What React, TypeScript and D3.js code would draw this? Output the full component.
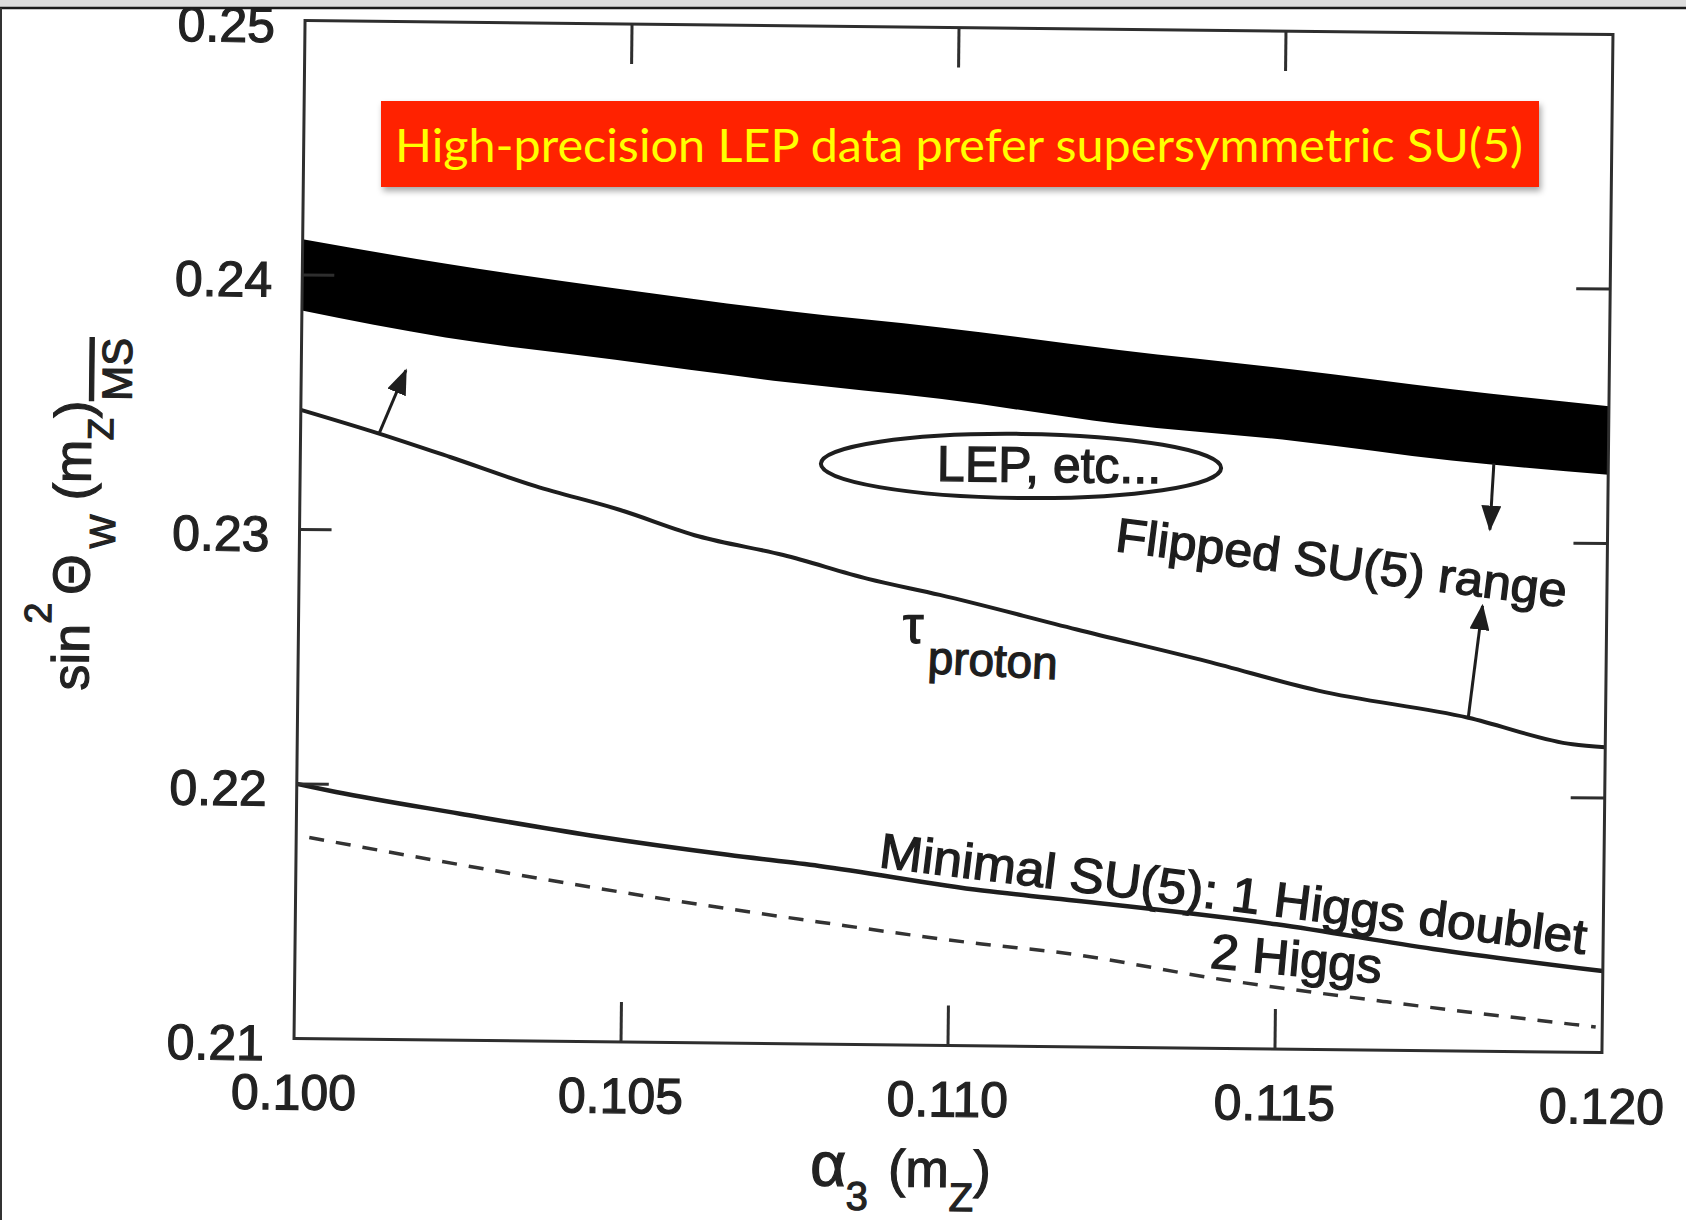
import React from "react";
import * as d3 from "d3";

const W = 1686;
const H = 1220;

// LEP band, sin^2(theta_W) against alpha_3(m_Z)
const bandAlpha = [0.1, 0.1022, 0.1048, 0.1074, 0.1098, 0.1125, 0.1152, 0.1176, 0.12];
const bandUpper = [0.2414, 0.2405, 0.2396, 0.2388, 0.2382, 0.2374, 0.2367, 0.236, 0.2354];
const bandLower = [0.2386, 0.2376, 0.2368, 0.236, 0.2354, 0.2345, 0.2339, 0.2332, 0.2327];

// proton lifetime bound
const tauAlpha = [0.1, 0.1012, 0.1023, 0.1036, 0.1049, 0.1061, 0.1074, 0.1087, 0.1098, 0.1119, 0.1139, 0.1156, 0.1179, 0.1195, 0.12];
const tauSin2 = [0.2347, 0.2338, 0.2329, 0.2318, 0.2309, 0.2299, 0.2292, 0.2283, 0.2277, 0.2264, 0.2252, 0.2241, 0.2231, 0.2221, 0.222];

// minimal SU(5), 1 Higgs doublet
const minimalAlpha = [0.1, 0.1006, 0.1025, 0.1045, 0.1066, 0.108, 0.1105, 0.1117, 0.115, 0.1174, 0.12];
const minimalSin2 = [0.22, 0.2197, 0.2189, 0.2181, 0.2174, 0.217, 0.2161, 0.2158, 0.2149, 0.214, 0.2132];

// minimal SU(5), 2 Higgs doublets (dashed)
const twoHiggsAlpha = [0.1002, 0.1025, 0.1052, 0.108, 0.1105, 0.1117, 0.1142, 0.1167, 0.1199];
const twoHiggsSin2 = [0.2179, 0.2169, 0.2158, 0.2148, 0.214, 0.2137, 0.2127, 0.2119, 0.211];

const xTicks = [0.1, 0.105, 0.11, 0.115, 0.12];
const xTickLabels = ["0.100", "0.105", "0.110", "0.115", "0.120"];
const yTicks = [0.21, 0.22, 0.23, 0.24, 0.25];
const yTickLabels = ["0.21", "0.22", "0.23", "0.24", "0.25"];

// arrows: [alpha, sin2] start -> end
const arrowFrom = [[0.1012, 0.2338], [0.11825, 0.2331], [0.1179, 0.2231]];
const arrowTo = [[0.1016, 0.2363], [0.1182, 0.2305], [0.1181, 0.2275]];

const FONT = "'Liberation Sans', Arial, Helvetica, sans-serif";
const INK = "#1e1e1e";

export default function App() {
  const left = 299.5, right = 1607.5, top = 27.5, bottom = 1045.5;
  const x = d3.scaleLinear().domain([0.1, 0.12]).range([left, right]);
  const y = d3.scaleLinear().domain([0.21, 0.25]).range([bottom, top]);

  const band = d3.area<number>()
    .x((d) => x(d))
    .y0((d, i) => y(bandLower[i]))
    .y1((d, i) => y(bandUpper[i]))
    .curve(d3.curveMonotoneX)(bandAlpha);

  const line = (xs: number[], ys: number[]) =>
    d3.line<number>().x((d) => x(d)).y((d, i) => y(ys[i])).curve(d3.curveMonotoneX)(xs);

  const inner = (t: number[]) => t.slice(1, -1);
  const cx = (left + right) / 2;
  const cy = (top + bottom) / 2;

  const at = (a: number, s: number, rot = 0) => `translate(${x(a)},${y(s)}) rotate(${rot})`;

  return (
    <svg width={W} height={H} style={{ position: "absolute", left: 0, top: 0, background: "#fff" }}>
      <defs>
        <marker id="head" viewBox="0 0 26 20" markerWidth={26} markerHeight={20} refX={24} refY={10}
          orient="auto" markerUnits="userSpaceOnUse">
          <path d="M0,0 L26,10 L0,20 Z" fill={INK} />
        </marker>
        <filter id="shadow" x="-5%" y="-20%" width="110%" height="150%">
          <feDropShadow dx="2" dy="4" stdDeviation="3" floodColor="#000" floodOpacity="0.35" />
        </filter>
      </defs>
      <rect width={W} height={H} fill="#fff" />

      <g transform={`rotate(0.62,${cx},${cy})`}>
        {/* LEP band */}
        <path d={band || ""} fill="#000" />

        <path d={line(tauAlpha, tauSin2) || ""} fill="none" stroke={INK} strokeWidth={4} />
        <path d={line(minimalAlpha, minimalSin2) || ""} fill="none" stroke={INK} strokeWidth={4.5} />
        <path d={line(twoHiggsAlpha, twoHiggsSin2) || ""} fill="none" stroke="#333" strokeWidth={3.5}
          strokeDasharray="15 12" />

        {arrowFrom.map((f, i) => (
          <line key={i} x1={x(f[0])} y1={y(f[1])} x2={x(arrowTo[i][0])} y2={y(arrowTo[i][1])}
            stroke={INK} strokeWidth={3} markerEnd="url(#head)" />
        ))}

        {/* LEP ellipse */}
        <ellipse cx={x(0.11102)} cy={y(0.2328)} rx={x(0.11102 + 0.00306) - x(0.11102)}
          ry={y(0.2328) - y(0.2328 + 0.00126)} fill="none" stroke={INK} strokeWidth={4} />

        <g fontFamily={FONT} fill={INK} stroke={INK} strokeWidth={1.3}>
          <text transform={at(0.11145, 0.23218)} textAnchor="middle" fontSize={50}>LEP, etc...</text>
          <text transform={at(0.11246, 0.2295, 6.5)} fontSize={48} textLength={454}
            lengthAdjust="spacingAndGlyphs">Flipped SU(5) range</text>
          <text transform={at(0.10924, 0.2258)} fontSize={52}>τ</text>
          <text transform={at(0.10962, 0.22462, 2)} fontSize={46} textLength={130}
            lengthAdjust="spacingAndGlyphs">proton</text>
          <text transform={at(0.1089, 0.21698, 6.4)} fontSize={49} textLength={712}
            lengthAdjust="spacingAndGlyphs">Minimal SU(5): 1 Higgs doublet</text>
          <text transform={at(0.11398, 0.21316, 4.5)} fontSize={49} textLength={172}
            lengthAdjust="spacingAndGlyphs">2 Higgs</text>
        </g>

        {/* frame and inward ticks */}
        <rect x={left} y={top} width={right - left} height={bottom - top} fill="none" stroke="#2e2e2e" strokeWidth={3} />
        {inner(xTicks).map((t) => (
          <g key={"xt" + t} stroke="#2e2e2e" strokeWidth={3}>
            <line x1={x(t)} x2={x(t)} y1={bottom} y2={bottom - 40} />
            <line x1={x(t)} x2={x(t)} y1={top} y2={top + 40} />
          </g>
        ))}
        {inner(yTicks).map((t) => (
          <g key={"yt" + t} stroke="#2e2e2e" strokeWidth={3}>
            <line x1={left} x2={left + 32} y1={y(t)} y2={y(t)} />
            <line x1={right} x2={right - 34} y1={y(t)} y2={y(t)} />
          </g>
        ))}

        {/* tick labels */}
        <g fontFamily={FONT} fontSize={50} fill="#222" stroke="#222" strokeWidth={1.2}>
          {xTicks.map((t, i) => (
            <text key={"xl" + t} x={x(t)} y={bottom + 71} textAnchor="middle">{xTickLabels[i]}</text>
          ))}
          {yTicks.map((t, i) => (
            <text key={"yl" + t} x={left - 30} y={y(t) + 22} textAnchor="end">{yTickLabels[i]}</text>
          ))}
        </g>

        {/* axis titles */}
        <g fontFamily={FONT} fill="#222" stroke="#222" strokeWidth={1.2}>
          <text x={817} y={1187} fontSize={52}>
            <tspan fontSize={62}>α</tspan>
            <tspan fontSize={40} dy={24}>3</tspan>
            <tspan dx={20} dy={-24}>(m</tspan>
            <tspan fontSize={40} dy={24}>Z</tspan>
            <tspan dy={-24}>)</tspan>
          </text>
          <text transform="translate(90,700) rotate(-90)" fontSize={52}>
            <tspan>sin</tspan>
            <tspan fontSize={38} dy={-38}>2</tspan>
            <tspan dx={8} dy={38}>Θ</tspan>
            <tspan fontSize={36} dx={6} dy={25}>W</tspan>
            <tspan dx={14} dy={-25}>(m</tspan>
            <tspan fontSize={36} dy={22}>Z</tspan>
            <tspan dy={-22}>)</tspan>
            <tspan fontSize={42} dy={40} textDecoration="overline">MS</tspan>
          </text>
        </g>
      </g>

      {/* slide title box */}
      <rect x={381} y={101} width={1158} height={86} fill="#ff2200" filter="url(#shadow)" />
      <text x={959} y={162} textAnchor="middle" fontFamily="Lato, 'Open Sans', sans-serif" fontSize={47}
        fill="#ffff00" textLength={1128} lengthAdjust="spacingAndGlyphs">
        High-precision LEP data prefer supersymmetric SU(5)
      </text>

      {/* screenshot edges */}
      <rect x={0} y={0} width={W} height={7} fill="#dcdcdc" />
      <line x1={0} x2={W} y1={8} y2={8} stroke="#1a1a1a" strokeWidth={2.5} />
      <line x1={1} x2={1} y1={8} y2={H} stroke="#333" strokeWidth={2} />
    </svg>
  );
}
